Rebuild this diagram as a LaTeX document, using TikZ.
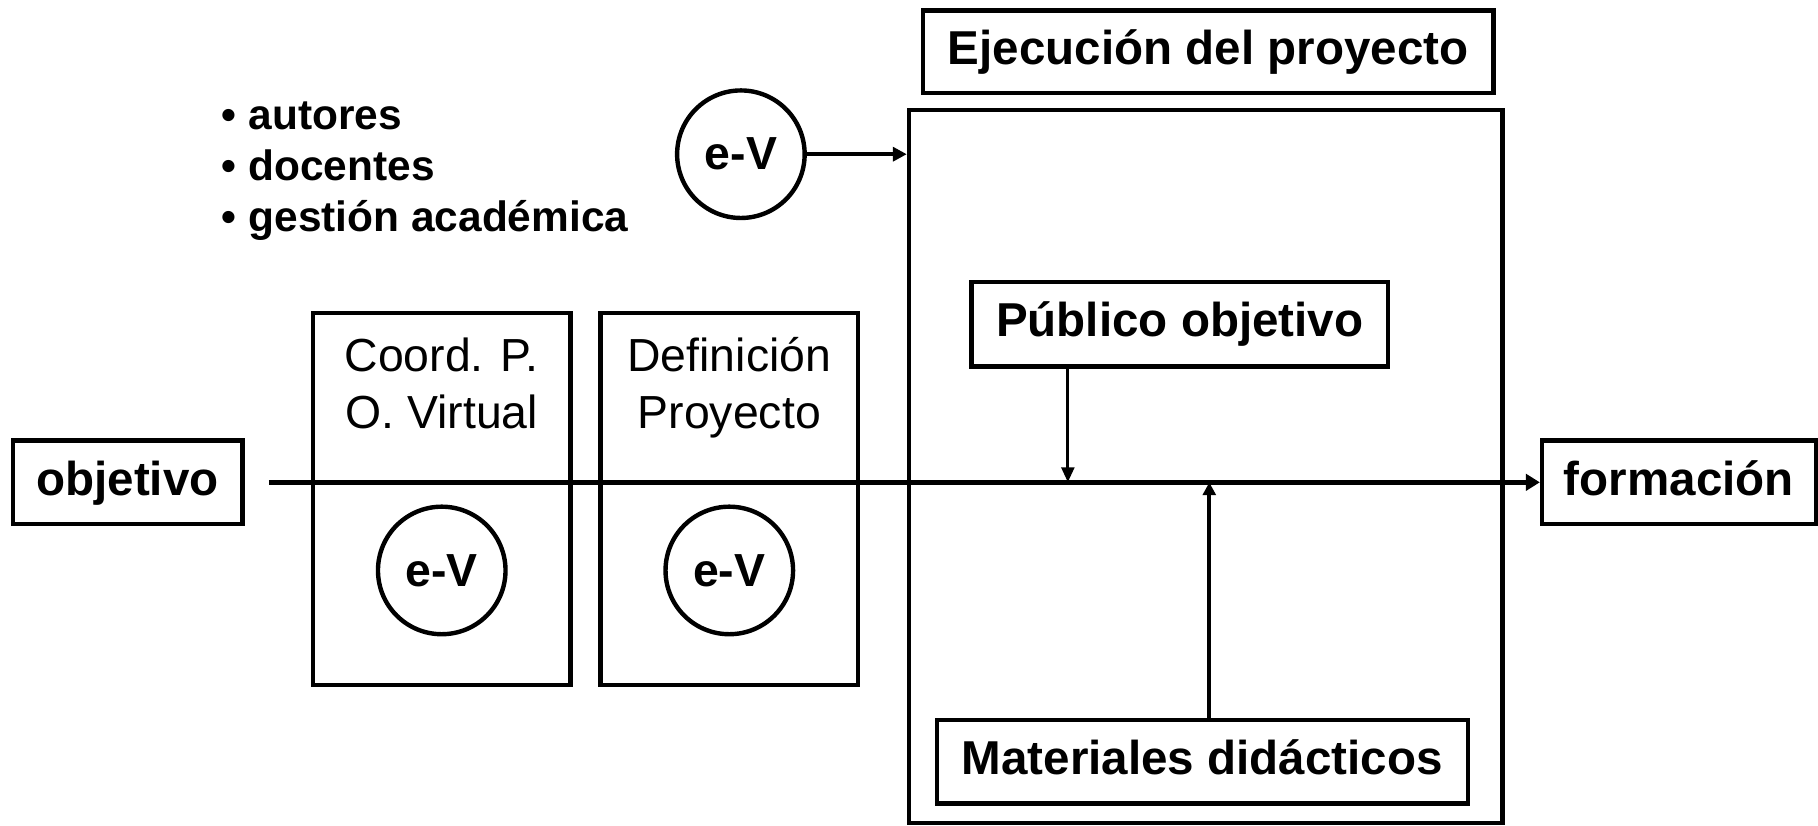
\documentclass[tikz,border=0pt]{standalone}
\usepackage{fontspec}
\setmainfont{Liberation Sans}
\usetikzlibrary{arrows.meta}
\begin{document}
\begin{tikzpicture}[x=0.5pt,y=-0.5pt,
  box/.style={draw,line width=1.9pt,inner sep=0pt,text height=15pt,text depth=4pt,
    font=\fontsize{20.5}{24}\selectfont\bfseries},
  plain/.style={draw,line width=1.9pt,inner sep=0pt},
  ev/.style={draw,circle,line width=1.9pt,minimum size=55pt,inner sep=0pt,
    font=\fontsize{20}{24}\selectfont\bfseries},
  lbl/.style={inner sep=0pt,anchor=base,font=\fontsize{20}{24}\selectfont},
  bul/.style={inner sep=0pt,anchor=base west,font=\fontsize{18.3}{22}\selectfont\bfseries},
  mainarr/.style={line width=2pt,-{Triangle[length=6pt,width=7pt]}},
  thinarr/.style={line width=1.4pt,-{Triangle[length=6.5pt,width=5.5pt]}},
  midarr/.style={line width=1.6pt,-{Triangle[length=5.5pt,width=5.5pt]}},
  toparr/.style={line width=1.8pt,-{Triangle[length=6pt,width=6pt]}}]
\useasboundingbox (0,0) rectangle (1568,712);

% header and big frame
\node[box,minimum width=246pt,minimum height=35.5pt] (ejec) at (1042,44.5) {Ejecución del proyecto};
\node[plain,minimum width=256pt,minimum height=307.5pt] (big) at (1040,402.5) {};

% bullets
\node[bul] (b1) at (191,112) {• autores};
\node[bul] (b2) at (191,156) {• docentes};
\node[bul] (b3) at (191,200) {• gestión académica};

% top e-V
\node[ev] (evtop) at (639,133) {e-V};
\draw[toparr] (evtop.east) -- (evtop.east -| big.west);

% two phase boxes
\node[plain,minimum width=111pt,minimum height=160.5pt] (coord) at (381,430.5) {};
\node[lbl] (c1) at (381,320) {Coord. P.};
\node[lbl] (c2) at (381,370) {O. Virtual};
\node[ev] (ev1) at (381,492) {e-V};

\node[plain,minimum width=111pt,minimum height=160.5pt] (def) at (629,430.5) {};
\node[lbl] (d1) at (629,320) {Definición};
\node[lbl] (d2) at (629,370) {Proyecto};
\node[ev] (ev2) at (629,492) {e-V};

% start and end
\node[box,minimum width=99pt,minimum height=36pt] (obj) at (110,416) {objetivo};
\node[box,minimum width=118pt,minimum height=36pt] (form) at (1448,416) {formación};
\coordinate (start) at (232,416);
\draw[mainarr] (start) -- (form.west);

% inputs inside execution
\node[box,minimum width=179.5pt,minimum height=36.5pt] (pub) at (1017.5,279.5) {Público objetivo};
\node[box,minimum width=229pt,minimum height=36pt] (mat) at (1037,657) {Materiales didácticos};
\coordinate (pubx) at (921,416);
\coordinate (matx) at (1043,416);
\draw[thinarr] (pub.south -| pubx) -- (pubx);
\draw[midarr] (mat.north -| matx) -- (matx);
\end{tikzpicture}
\end{document}
